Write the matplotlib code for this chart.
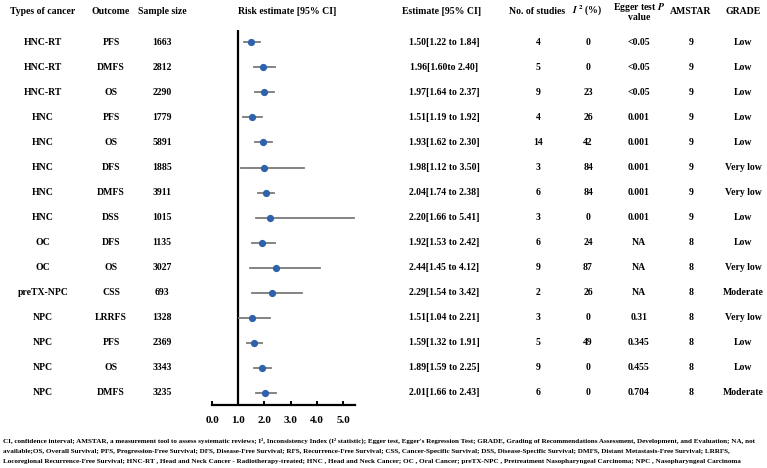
import matplotlib.pyplot as plt
import matplotlib.transforms as mtransforms

plt.rcParams['font.family'] = ['Liberation Serif', 'DejaVu Serif']
plt.rcParams['font.weight'] = 'bold'
plt.rcParams['mathtext.fontset'] = 'stix'

cancer = ['HNC-RT', 'HNC-RT', 'HNC-RT', 'HNC', 'HNC', 'HNC', 'HNC', 'HNC',
          'OC', 'OC', 'preTX-NPC', 'NPC', 'NPC', 'NPC', 'NPC']
outcome = ['PFS', 'DMFS', 'OS', 'PFS', 'OS', 'DFS', 'DMFS', 'DSS',
           'DFS', 'OS', 'CSS', 'LRRFS', 'PFS', 'OS', 'DMFS']
sample = [1663, 2812, 2290, 1779, 5891, 1885, 3911, 1015,
          1135, 3027, 693, 1328, 2369, 3343, 3235]
est = [1.50, 1.96, 1.97, 1.51, 1.93, 1.98, 2.04, 2.20,
       1.92, 2.44, 2.29, 1.51, 1.59, 1.89, 2.01]
lo = [1.22, 1.60, 1.64, 1.19, 1.62, 1.12, 1.74, 1.66,
      1.53, 1.45, 1.54, 1.04, 1.32, 1.59, 1.66]
hi = [1.84, 2.40, 2.37, 1.92, 2.30, 3.50, 2.38, 5.41,
      2.42, 4.12, 3.42, 2.21, 1.91, 2.25, 2.43]
n_studies = [4, 5, 9, 4, 14, 3, 6, 3, 6, 9, 2, 3, 5, 9, 6]
i2 = [0, 0, 23, 26, 42, 84, 84, 0, 24, 87, 26, 0, 49, 0, 0]
egger = ['<0.05', '<0.05', '<0.05', '0.001', '0.001', '0.001', '0.001', '0.001',
         'NA', 'NA', 'NA', '0.31', '0.345', '0.455', '0.704']
amstar = [9, 9, 9, 9, 9, 9, 9, 9, 8, 8, 8, 8, 8, 8, 8]
grade = ['Low', 'Low', 'Low', 'Low', 'Low', 'Very low', 'Very low', 'Low',
         'Low', 'Very low', 'Moderate', 'Very low', 'Low', 'Low', 'Moderate']
ticks = [0, 1, 2, 3, 4, 5]

est_txt = []
for e, l, h in zip(est, lo, hi):
    est_txt.append('%.2f[%.2f to %.2f]' % (e, l, h))
est_txt[1] = '1.96[1.60to 2.40]'

W, H = 767, 468
fig = plt.figure(figsize=(W / 100, H / 100), dpi=100)
ax = fig.add_axes([212 / W, 1 - 405 / H, (355 - 212) / W, (405 - 30) / H])

rows = range(len(est))
for i in rows:
    ax.plot([lo[i], hi[i]], [i, i], color='#7a7a7a', lw=1.3, zorder=2)
ax.plot(est, list(rows), 'o', color='#2f62ad', ms=4.2, zorder=3)
ax.axvline(1, color='black', lw=1.6, zorder=1)

ax.set_xlim(0, 5.45)
ax.set_ylim(14.48, -0.49)
for s in ['top', 'right', 'left']:
    ax.spines[s].set_visible(False)
ax.spines['bottom'].set_linewidth(1.6)
ax.set_yticks([])
ax.set_xticks(ticks)
ax.set_xticklabels(['%.1f' % t for t in ticks], fontsize=8, fontweight='bold')
ax.tick_params(axis='x', direction='in', length=3, width=1.4, pad=8)

tr = mtransforms.blended_transform_factory(fig.transFigure, ax.transData)
fs = 7
cols = [(43, cancer), (111, outcome), (162, sample), (444, est_txt),
        (538, n_studies), (588, i2), (639, egger), (691, amstar), (743, grade)]
for x, vals in cols:
    for i, v in enumerate(vals):
        ax.text(x / W, i, str(v), transform=tr, ha='center', va='center',
                fontsize=fs, fontweight='bold')

hy = 1 - 11 / H
headers = [(43, 'Types of cancer'), (111, 'Outcome'), (162, 'Sample size'),
           (287, 'Risk estimate [95% CI]'), (442, 'Estimate [95% CI]'),
           (537, 'No. of studies'), (691, 'AMSTAR'), (743, 'GRADE')]
for x, t in headers:
    fig.text(x / W, hy, t, ha='center', va='center', fontsize=fs, fontweight='bold')
fig.text(587 / W, hy, r'$\mathbf{\mathit{I}^{\,2}}$ (%)', ha='center', va='center',
         fontsize=fs, fontweight='bold')
fig.text(639 / W, 1 - 7 / H, r'Egger test $\mathbf{\mathit{P}}$', ha='center', va='center',
         fontsize=fs, fontweight='bold')
fig.text(639 / W, 1 - 18 / H, 'value', ha='center', va='center',
         fontsize=fs, fontweight='bold')

notes = [
    "CI, confidence interval; AMSTAR, a measurement tool to assess systematic reviews; I\u00b2, Inconsistency Index (I\u00b2 statistic); Egger test, Egger's Regression Test; GRADE, Grading of Recommendations Assessment, Development, and Evaluation; NA, not",
    "available;OS, Overall Survival; PFS, Progression-Free Survival; DFS, Disease-Free Survival; RFS, Recurrence-Free Survival; CSS, Cancer-Specific Survival; DSS, Disease-Specific Survival; DMFS, Distant Metastasis-Free Survival; LRRFS,",
    "Locoregional Recurrence-Free Survival; HNC-RT , Head and Neck Cancer - Radiotherapy-treated; HNC , Head and Neck Cancer; OC , Oral Cancer; preTX-NPC , Pretreatment Nasopharyngeal Carcinoma; NPC , Nasopharyngeal Carcinoma",
]
for k, t in enumerate(notes):
    fig.text(3 / W, 1 - (441 + 10 * k) / H, t, ha='left', va='center',
             fontsize=5.1, fontweight='bold', fontstretch='condensed')

fig.savefig('out.png', dpi=100)
